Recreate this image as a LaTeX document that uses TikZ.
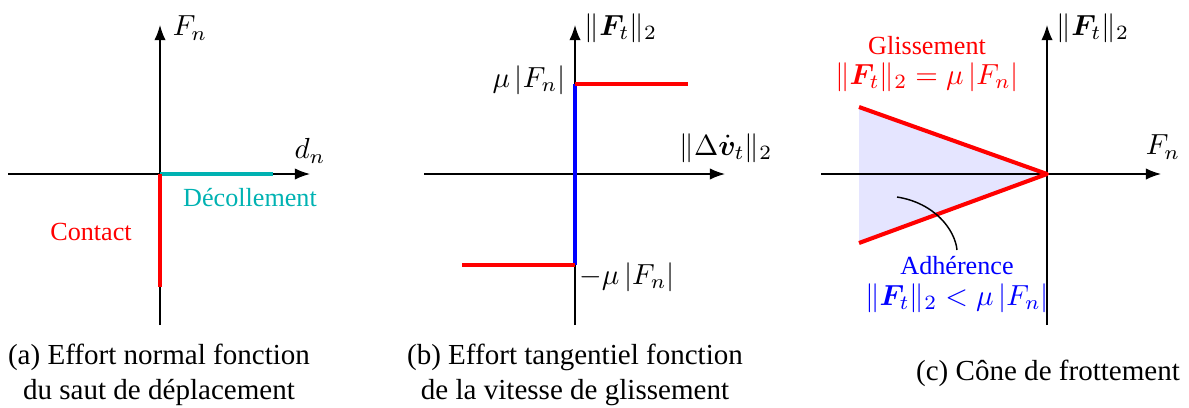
\documentclass[tikz,border=0pt]{standalone}
\usepackage{bm}
\usepackage{fontspec}
\setmainfont{Liberation Serif}
\usetikzlibrary{arrows.meta}
\definecolor{turquoise}{RGB}{0,178,178}
\newcommand{\nFt}{\|\bm{F}_t\|_2}

\begin{document}
\begin{tikzpicture}[>=Latex,x=0.0121cm,y=-0.0121cm,font=\fontsize{10}{12}\selectfont,
  axe/.style={->,line width=0.5pt},
  branche/.style={line width=1.4pt},
  lab/.style={font=\fontsize{9}{11}\selectfont,inner sep=1pt},
  labm/.style={inner sep=1pt}]
  \useasboundingbox (0,0) rectangle (1189,407);
  % (a) effort normal
  \coordinate (Oa) at (160,174);
  \draw[axe] (8,174) -- (310,174); \draw[axe] (160,325) -- (160,25);
  \draw[branche,turquoise] (Oa) -- (273,174);
  \draw[branche,red] (Oa) -- (160,287);
  \node[labm] (Fna) at (190,28) {$F_n$};
  \node[labm] (dn) at (310,151) {$d_n$};
  \node[lab,text=turquoise] (decol) at (250,198) {Décollement};
  \node[lab,text=red] (contact) at (91,232) {Contact};
  \node[align=center] (capa) at (159,375) {(a) Effort normal fonction\\du saut de déplacement};
  % (b) effort tangentiel
  \coordinate (Ob) at (575,174);
  \draw[axe] (424,174) -- (725,174); \draw[axe] (575,325) -- (575,25);
  \draw[branche,blue] (575,84) -- (575,265);
  \draw[branche,red] (575,84) -- (688,84); \draw[branche,red] (462,265) -- (575,265);
  \node[labm] (Ftb) at (621,28) {$\nFt$};
  \node[labm] (dvt) at (726,148) {$\|\Delta\dot{\bm{v}}_t\|_2$};
  \node[labm] (mup) at (529,80) {$\mu\,|F_n|$};
  \node[labm] (mum) at (627,277) {$-\mu\,|F_n|$};
  \node[align=center] (capb) at (575,375) {(b) Effort tangentiel fonction\\de la vitesse de glissement};
  % (c) cone de frottement
  \coordinate (Oc) at (1047,174);
  \coordinate (haut) at (859,107); \coordinate (bas) at (859,243);
  \fill[blue!10] (Oc) -- (haut) -- (bas) -- cycle;
  \draw[axe] (821,174) -- (1161,174); \draw[axe] (1047,325) -- (1047,25);
  \draw[branche,red,line join=round] (haut) -- (Oc) -- (bas);
  \node[labm] (Ftc) at (1093,28) {$\nFt$};
  \node[labm] (Fnc) at (1163,147) {$F_n$};
  \node[lab,text=red] (gliss) at (927,46) {Glissement};
  \node[labm,text=red] (glisseq) at (927,77) {$\nFt=\mu\,|F_n|$};
  \node[lab,text=blue] (adh) at (957,266) {Adhérence};
  \node[labm,text=blue] (adheq) at (957,298) {$\nFt<\mu\,|F_n|$};
  \coordinate (adhpt) at (897,197);
  \draw[line width=0.5pt] (adhpt) .. controls (935,203) and (955,230) .. (957,250);
  \node (capc) at (1048,373) {(c) Cône de frottement};
\end{tikzpicture}
\end{document}
